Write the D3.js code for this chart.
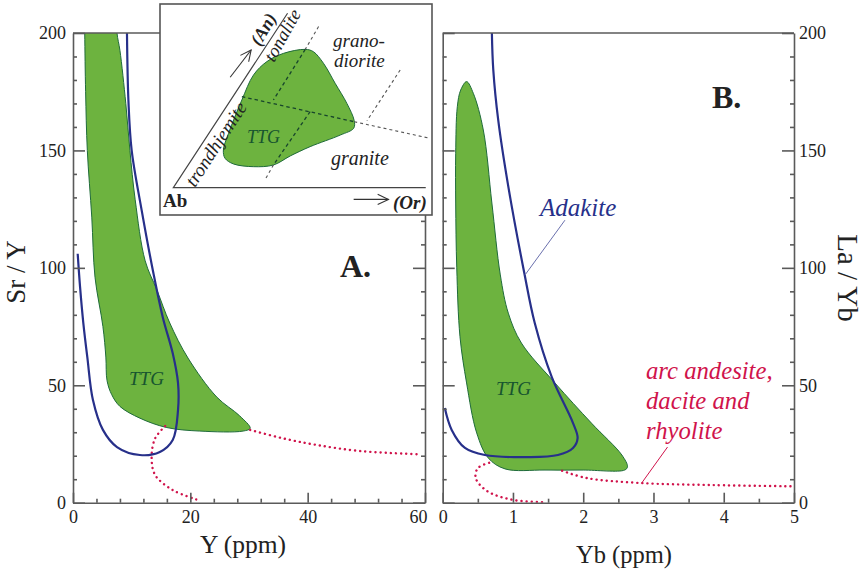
<!DOCTYPE html>
<html>
<head>
<meta charset="utf-8">
<script src="https://cdn.jsdelivr.net/npm/d3@7"></script>
<style>
  body { margin: 0; background: #fff; }
  svg { display: block; }
  text { font-family: "Liberation Serif", serif; fill: #222; }
  .axis path, .axis line { stroke: #5a5a5a; stroke-width: 1.6px; }
  .axis text { font-size: 18px; fill: #222; font-family: "Liberation Serif", serif; }
</style>
</head>
<body>
<div id="chart"></div>
<script>
// DATA
// ticks
const yMajor = [0, 50, 100, 150, 200];
const yMinor = [10, 20, 30, 40, 60, 70, 80, 90, 110, 120, 130, 140, 160, 170, 180, 190];
const xMajorA = [0, 20, 40, 60];
const xMinorA = [4, 8, 12, 16, 24, 28, 32, 36, 44, 48, 52, 56];
const xMajorB = [0, 1, 2, 3, 4, 5];
const xMinorB = [0.5, 1.5, 2.5, 3.5, 4.5];

// panel A : Y (ppm) vs Sr/Y (first and last TTG points stick out above 200, the clip cuts them flat)
const ttgAx = [1.95, 2, 2.15, 2.44, 3.2, 3.75, 5.1, 5.6, 5.8, 6.6, 8, 11.4, 16, 21.6, 29, 30.2, 28.4, 24.5, 19.6, 16.5, 14.3, 12.3, 10.6, 9.7, 9, 8, 7.5, 7.3];
const ttgAy = [215, 200, 175, 150, 121.6, 96, 75, 62, 52, 46, 41, 36, 32, 30.5, 30.5, 31.7, 37, 45, 61.6, 76.5, 90.6, 103, 129, 150, 170, 192.6, 200, 215];
const adakiteAx = [0.8, 1.2, 1.76, 2.44, 3.4, 5.1, 7.5, 11.4, 14.8, 17, 17.9, 17.9, 17, 15.3, 13.7, 11.7, 10, 9.45, 9.2];
const adakiteAy = [106, 92, 76.5, 62, 43.7, 31, 23.7, 20.3, 21.6, 26.7, 39.4, 51, 63.6, 79, 97.8, 124.6, 150, 171, 200];
const arcUpperAx = [30.2, 35.8, 41.5, 48.9, 59];
const arcUpperAy = [31, 27.4, 24.6, 22, 20.6];
const arcLowerAx = [15.7, 14, 13.4, 14, 17, 21];
const arcLowerAy = [32.6, 27.4, 19.4, 11.8, 5.4, 1.4];

// panel B : Yb (ppm) vs La/Yb
const ttgBx = [0.34, 0.256, 0.208, 0.185, 0.185, 0.2, 0.246, 0.34, 0.484, 0.65, 0.887, 1.456, 2, 2.59, 2.63, 2.55, 2.12, 1.6, 1.12, 0.934, 0.82, 0.7, 0.578, 0.436];
const ttgBy = [179.3, 175.7, 168.6, 148.8, 127.6, 100, 70.7, 51, 29.7, 19, 14.4, 13.9, 13.9, 13.9, 15.3, 20.3, 33.8, 50.9, 68, 80.7, 97, 127.6, 158.7, 174.3];
const adakiteBx = [0.03, 0.128, 0.317, 0.6, 1.21, 1.64, 1.855, 1.92, 1.855, 1.55, 1.31, 1.16, 0.934, 0.79, 0.72, 0.7];
const adakiteBy = [40.3, 31, 23.3, 20.3, 19.4, 20.3, 23.3, 27.5, 33.9, 53.7, 76.5, 98, 134.6, 163, 184.3, 200];
const arcUpperBx = [1.7, 2.05, 2.8, 3.85, 4.97];
const arcUpperBy = [13.6, 10.5, 8.4, 7.5, 7];
const arcLowerBx = [0.66, 0.5, 0.47, 0.63, 1, 1.48];
const arcLowerBy = [17, 14.7, 10.5, 5, 1.2, 0.2];
const adakiteLeaderX = [1.74, 1.17];
const adakiteLeaderY = [120.3, 96.9];
const arcLeaderX = [3.2, 2.83];
const arcLeaderY = [23.7, 8.3];

// inset : 0-100 both ways inside the box
const insetTtgX = [53.4, 56.4, 60.1, 64.4, 68.7, 71.4, 71.2, 66.3, 55.2, 47.9, 41.7, 34.4, 27, 23.9, 23.3, 25.2, 30.1, 34.4, 39.3, 45.4];
const insetTtgY = [78.5, 77.4, 71.9, 62.4, 52.9, 44.7, 41.1, 37.9, 32.4, 28, 23.7, 22.9, 24.2, 26.9, 30.8, 38.7, 54.5, 66.4, 72.7, 76.6];
const insetSideX = [46.9, 4.9, 97.7];
const insetSideY = [95.6, 13, 13];
// dark = dashes over the TTG field, light = the same lines outside of it
const insetDark = [
  [[30.1, 56.1], [71.4, 44.2]],
  [[53.4, 78.5], [41.7, 54.5]],
  [[55.2, 49], [41.7, 23.7]]
];
const insetLight = [
  [[71.4, 44.2], [99.4, 36.3]],
  [[58.3, 89.3], [53.4, 78.5]],
  [[41.7, 23.7], [38.7, 16.9]],
  [[88.3, 68.7], [76.1, 44.7]]
];
const insetArrows = [
  [[25.8, 65.3], [33.5, 78.2]],
  [[71.2, 7.4], [84, 7.4]]
];

const GREEN = '#6db33f';
const GREEN_EDGE = '#1f6b3a';
const NAVY = '#27308a';
const RED = '#d0134b';

function zip(xs, ys) {
  return xs.map((x, i) => [x, ys[i]]);
}

document.addEventListener('DOMContentLoaded', function(){
  drawChart();
});

// drawPanel
// one of the two diagrams, returns the scales for the labels
function drawPanel(svg, id, opt) {
  const x = d3.scaleLinear().domain(opt.xDomain).range(opt.xRange);
  const y = d3.scaleLinear().domain([0, 200]).range([502.7, 33]);
  const g = svg.append('g').classed(id, true);

  g.append('clipPath').attr('id', 'clip-' + id).append('rect')
    .attr('x', opt.xRange[0]).attr('y', 33)
    .attr('width', opt.xRange[1] - opt.xRange[0]).attr('height', 469.7);

  const smooth = d3.line().x(d => x(d[0])).y(d => y(d[1])).curve(d3.curveCatmullRom.alpha(0.5));
  const closed = d3.line().x(d => x(d[0])).y(d => y(d[1])).curve(d3.curveCatmullRomClosed.alpha(0.5));
  const plot = g.append('g').attr('clip-path', 'url(#clip-' + id + ')');

  plot.append('path').attr('d', closed(opt.ttg))
    .attr('fill', GREEN).attr('stroke', GREEN_EDGE).attr('stroke-width', 1);
  opt.arcs.forEach(arc => {
    plot.append('path').attr('d', smooth(arc))
      .attr('fill', 'none').attr('stroke', RED).attr('stroke-width', 2.4)
      .attr('stroke-linecap', 'round').attr('stroke-dasharray', '0.1 5');
  });
  plot.append('path').attr('d', smooth(opt.adakite))
    .attr('fill', 'none').attr('stroke', NAVY).attr('stroke-width', 2.2);

  // AXIS
  const addAxis = (axis, transform, major, minor, size, labels) => {
    const ag = g.append('g').classed('axis', true).attr('transform', transform);
    ag.call(axis.tickValues(minor).tickSize(-4).tickFormat(''));
    ag.select('.domain').remove();
    const ag2 = g.append('g').classed('axis', true).attr('transform', transform);
    ag2.call(axis.tickValues(major).tickSize(-size).tickSizeOuter(0).tickFormat(labels ? d3.format('d') : ''));
    ag2.selectAll('text').attr('dy', null);
    return ag2;
  };
  const bottom = addAxis(d3.axisBottom(x), 'translate(0,502.7)', opt.xMajor, opt.xMinor, 10, true);
  bottom.selectAll('.tick text').attr('y', 8).attr('dy', '0.71em');
  const left = addAxis(d3.axisLeft(y), 'translate(' + opt.xRange[0] + ',0)', yMajor, yMinor, 12, opt.labelSide === 'left');
  const right = addAxis(d3.axisRight(y), 'translate(' + opt.xRange[1] + ',0)', yMajor, yMinor, 12, opt.labelSide === 'right');
  [left, right].forEach(a => a.selectAll('.tick text').attr('dy', '0.32em'));
  left.selectAll('.tick text').attr('x', -7);
  right.selectAll('.tick text').attr('x', 5);
  g.append('line').attr('x1', opt.xRange[0]).attr('x2', opt.xRange[1]).attr('y1', 33).attr('y2', 33)
    .attr('stroke', '#5a5a5a').attr('stroke-width', 1.6);

  return { x: x, y: y, g: g, bottom: bottom };
}

// drawInset
// the QAP style triangle box that sits on top of panel A
function drawInset(svg) {
  const ix = d3.scaleLinear().domain([0, 100]).range([160, 432]);
  const iy = d3.scaleLinear().domain([0, 100]).range([215, 4]);
  const g = svg.append('g').classed('inset', true);
  const line = d3.line().x(d => ix(d[0])).y(d => iy(d[1]));

  g.append('rect').attr('x', 160).attr('y', 4).attr('width', 272).attr('height', 211)
    .attr('fill', '#fff').attr('stroke', '#555').attr('stroke-width', 1.6);

  g.append('path').attr('d', d3.line().x(d => ix(d[0])).y(d => iy(d[1])).curve(d3.curveCatmullRomClosed.alpha(0.5))(zip(insetTtgX, insetTtgY)))
    .attr('fill', GREEN).attr('stroke', GREEN_EDGE).attr('stroke-width', 1);
  g.append('path').attr('d', line(zip(insetSideX, insetSideY)))
    .attr('fill', 'none').attr('stroke', '#444').attr('stroke-width', 1.2);

  insetLight.forEach(l => {
    g.append('path').attr('d', line(l)).attr('stroke', '#555').attr('stroke-width', 1.1).attr('stroke-dasharray', '3 3');
  });
  insetDark.forEach(l => {
    g.append('path').attr('d', line(l)).attr('stroke', '#17452c').attr('stroke-width', 1.3).attr('stroke-dasharray', '3.5 3');
  });

  // open arrow heads
  insetArrows.forEach(a => {
    g.append('path').attr('d', line(a)).attr('fill', 'none').attr('stroke', '#333').attr('stroke-width', 1.1);
    const x2 = ix(a[1][0]), y2 = iy(a[1][1]);
    const ang = Math.atan2(y2 - iy(a[0][1]), x2 - ix(a[0][0]));
    const head = [ang - 0.45, ang + 0.45].map(t => [x2 - 12 * Math.cos(t), y2 - 12 * Math.sin(t)]);
    g.append('path').attr('d', 'M' + head[0] + 'L' + x2 + ',' + y2 + 'L' + head[1])
      .attr('fill', 'none').attr('stroke', '#333').attr('stroke-width', 1.1);
  });

  const label = (txt, px, py, size, rot, style, weight, color) => {
    g.append('text').text(txt)
      .attr('transform', 'translate(' + px + ',' + py + ') rotate(' + rot + ')')
      .style('font-size', size + 'px').style('font-style', style).style('font-weight', weight)
      .style('fill', color || '#222');
  };
  label('trondhjemite', 195, 188, 19, -57, 'italic', 'normal');
  label('tonalite', 274, 63, 18.5, -61, 'italic', 'normal');
  label('(An)', 260, 47, 18, -60, 'italic', 'bold');
  label('grano-', 333, 47, 19, 0, 'italic', 'normal');
  label('diorite', 334, 67, 19, 0, 'italic', 'normal');
  label('granite', 331, 165, 20, 0, 'italic', 'normal');
  label('TTG', 247, 143, 18, 0, 'italic', 'normal', '#17552f');
  label('Ab', 163, 207, 19, 0, 'normal', 'bold');
  label('(Or)', 393, 209, 19, 0, 'italic', 'bold');
}

function drawChart() {
  // Create SVG
  const svg = d3.select('#chart').append('svg').attr('width', 865).attr('height', 572);
  svg.append('rect').attr('width', 865).attr('height', 572).attr('fill', '#fff');

  const a = drawPanel(svg, 'panel-a', {
    xDomain: [0, 60], xRange: [73, 425], xMajor: xMajorA, xMinor: xMinorA, labelSide: 'left',
    ttg: zip(ttgAx, ttgAy), adakite: zip(adakiteAx, adakiteAy),
    arcs: [zip(arcUpperAx, arcUpperAy), zip(arcLowerAx, arcLowerAy)]
  });
  const b = drawPanel(svg, 'panel-b', {
    xDomain: [0, 5], xRange: [442.7, 794], xMajor: xMajorB, xMinor: xMinorB, labelSide: 'right',
    ttg: zip(ttgBx, ttgBy), adakite: zip(adakiteBx, adakiteBy),
    arcs: [zip(arcUpperBx, arcUpperBy), zip(arcLowerBx, arcLowerBy)]
  });
  // the 60 sits a bit left of its tick in the original
  a.bottom.selectAll('.tick text').filter(d => d === 60).attr('x', -7);

  drawInset(svg);

  // leader lines
  const leader = d3.line().x(d => b.x(d[0])).y(d => b.y(d[1]));
  b.g.append('path').attr('d', leader(zip(adakiteLeaderX, adakiteLeaderY))).attr('stroke', '#6a70ad').attr('stroke-width', 1);
  b.g.append('path').attr('d', leader(zip(arcLeaderX, arcLeaderY))).attr('stroke', RED).attr('stroke-width', 1);

  // Labels
  const text = (txt, px, py, size, extra) => {
    const t = svg.append('text').text(txt).attr('x', px).attr('y', py).style('font-size', size + 'px');
    Object.entries(extra || {}).forEach(e => t.style(e[0], e[1]));
    return t;
  };
  text('Y (ppm)', 243, 553, 25.5, { 'text-anchor': 'middle' });
  text('Yb (ppm)', 624, 563, 24.5, { 'text-anchor': 'middle' });
  text('Sr / Y', 0, 0, 27, { 'text-anchor': 'middle' }).attr('transform', 'translate(25,272) rotate(-90)');
  text('La / Yb', 0, 0, 29, { 'text-anchor': 'middle' }).attr('transform', 'translate(838,278) rotate(90)');
  text('A.', 340, 277, 32, { 'font-weight': 'bold' });
  text('B.', 712, 108, 32, { 'font-weight': 'bold' });
  text('TTG', 129, 385, 19, { 'font-style': 'italic', 'fill': '#17552f' });
  text('TTG', 496, 395, 19, { 'font-style': 'italic', 'fill': '#17552f' });
  text('Adakite', 540, 216, 25, { 'font-style': 'italic', 'fill': NAVY });
  text('arc andesite,', 646, 379, 24.7, { 'font-style': 'italic', 'fill': RED });
  text('dacite and', 646, 409, 24.7, { 'font-style': 'italic', 'fill': RED });
  text('rhyolite', 646, 439, 24.7, { 'font-style': 'italic', 'fill': RED });
}
</script>
</body>
</html>
